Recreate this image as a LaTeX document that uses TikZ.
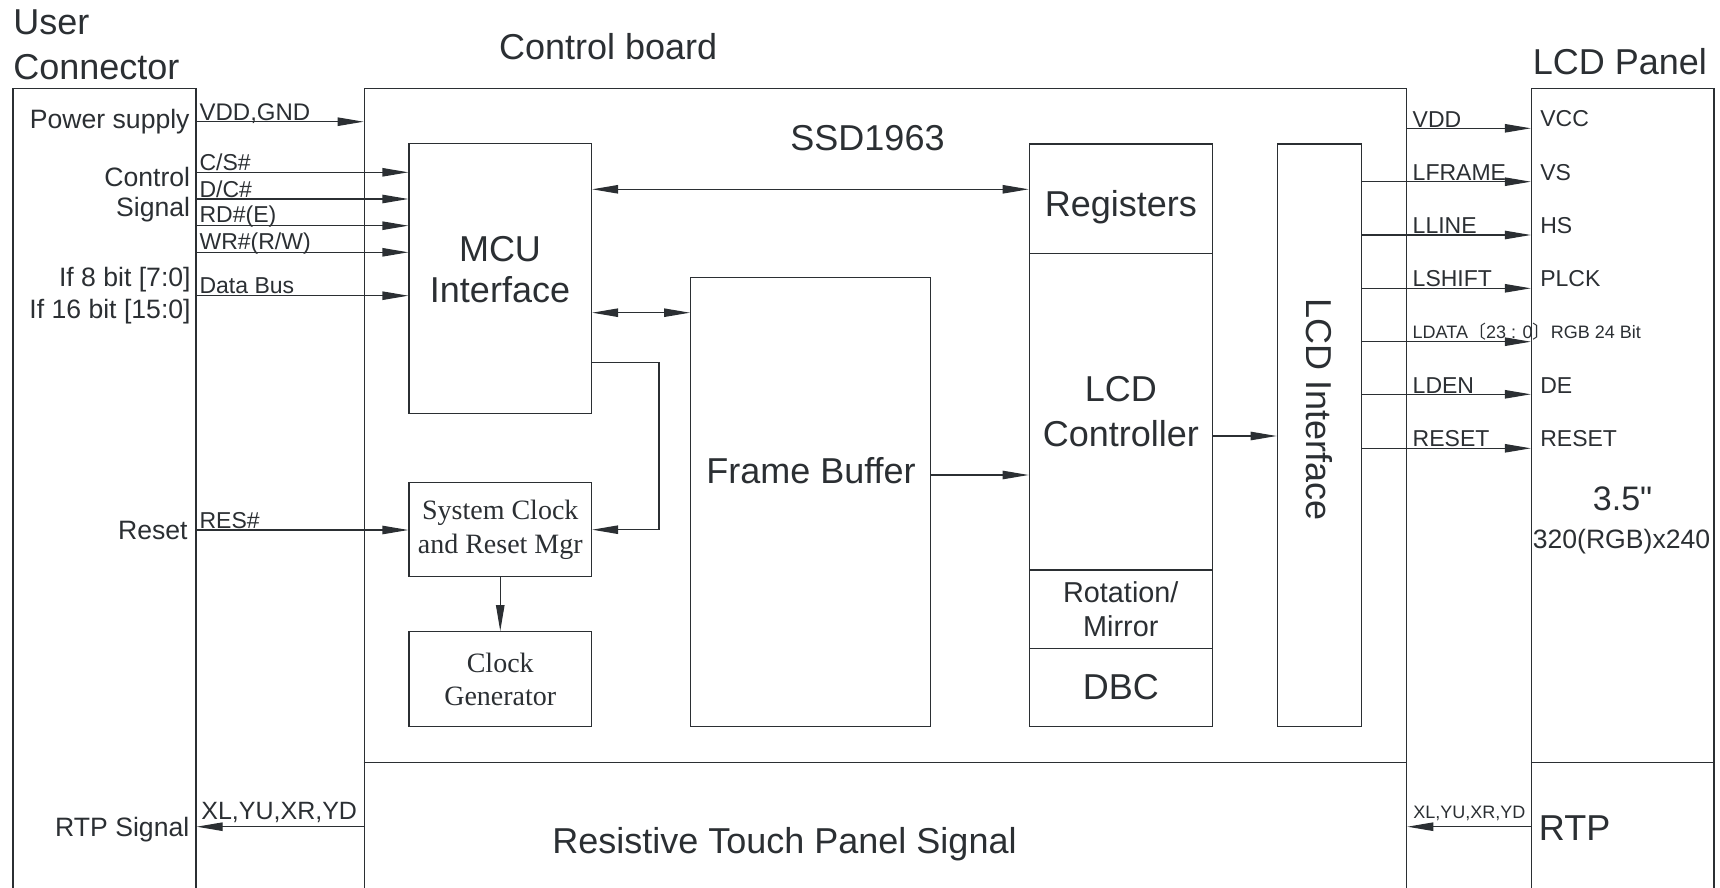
\documentclass[tikz,border=0pt]{standalone}
\usepackage{fontspec}
\usepackage{tikz}
\usetikzlibrary{arrows.meta,positioning}
\newfontfamily\sfont{Liberation Sans}
\newfontfamily\rmfont{Liberation Serif}
\newfontfamily\cjk{Noto Sans CJK SC}
\definecolor{ink}{HTML}{2B2F33}

\begin{document}
\begin{tikzpicture}[x=0.5pt, y=-0.5pt,
  blk/.style={draw=ink, line width=0.6pt, rectangle, inner sep=0pt, text=ink},
  sig/.style={draw=ink, line width=0.6pt, -{Triangle[length=13pt,width=4.2pt]}},
  dsig/.style={draw=ink, line width=0.6pt, {Triangle[length=13pt,width=4.2pt]}-{Triangle[length=13pt,width=4.2pt]}},
  big/.style={font=\sfont\fontsize{18}{22.5}\selectfont, text=ink, inner sep=0pt},
  mid/.style={font=\sfont\fontsize{13.3}{16}\selectfont, text=ink, inner sep=0pt},
  sml/.style={font=\sfont\fontsize{11.5}{14}\selectfont, text=ink, inner sep=0pt},
  tny/.style={font=\sfont\fontsize{9}{11}\selectfont, text=ink, inner sep=0pt},
  tms/.style={font=\rmfont\fontsize{14}{16.7}\selectfont, text=ink, align=center}]

\useasboundingbox (0,0) rectangle (1720,888);

% outer boxes
\node[blk, minimum width=91.5pt, minimum height=406pt] (user) at (104.5,494.2) {};
\node[blk, minimum width=521.2pt, minimum height=406pt] (board) at (885.5,494.2) {};
\node[blk, minimum width=91.25pt, minimum height=406pt] (panel) at (1622.75,494.2) {};
\coordinate (ysep) at (0,762.7);
\draw[ink, line width=0.6pt] (board.west |- ysep) -- (board.east |- ysep);
\draw[ink, line width=0.6pt] (panel.west |- ysep) -- (panel.east |- ysep);

\node[big, anchor=base west] (usr1) at (13,35) {User};
\node[big, anchor=base west] (usr2) at (13,80) {Connector};
\node[big, anchor=base] (brd) at (608.2,59.5) {Control board};
\node[big, anchor=base] (pnl) at (1620,74.6) {LCD Panel};
\node[big, anchor=base] (chip) at (867.5,150.7) {SSD1963};

% blocks inside the chip
\node[blk, minimum width=91.25pt, minimum height=134.8pt] (mcu) at (500.25,278.5) {};
\node[big, align=center, font=\sfont\fontsize{18}{20.8}\selectfont] (tmcu) at (500,269.7) {MCU\\Interface};
\node[blk, tms, minimum width=91.25pt, minimum height=47pt] (sysclk) at (500.25,529.7) {System Clock\\and Reset Mgr};
\node[blk, tms, minimum width=91.25pt, minimum height=47.5pt] (clkgen) at (500.25,679.2) {Clock\\Generator};
\node[blk, minimum width=119.9pt, minimum height=224.7pt] (fb) at (810.5,502) {};
\node[big, anchor=base] (tfb) at (811,483.3) {Frame Buffer};
\node[blk, minimum width=91.5pt, minimum height=54.65pt] (regs) at (1120.8,198.65) {};
\node[big, anchor=base] (tregs) at (1120.8,216.7) {Registers};
\node[blk, big, align=center, minimum width=91.5pt, minimum height=158.35pt] (lcdc) at (1120.8,411.65) {LCD\\Controller};
\node[blk, align=center, minimum width=91.5pt, minimum height=39.15pt, font=\sfont\fontsize{14.4}{17.3}\selectfont] (rot) at (1120.8,609.15) {Rotation/\\Mirror};
\node[blk, big, minimum width=91.5pt, minimum height=39.2pt] (dbc) at (1120.8,687.5) {DBC};
\node[blk, minimum width=42.2pt, minimum height=291.35pt] (lcdif) at (1319.5,435.35) {};
\node[big, rotate=-90] (tlcdif) at (1319.5,410) {LCD Interface};

% user connector side
\node[mid, anchor=base east] (lpwr) at (190,128.3) {Power supply};
\node[mid, anchor=base east] (lctl) at (190.5,186.7) {Control};
\node[mid, anchor=base east] (lsig) at (190.5,216.7) {Signal};
\node[mid, anchor=base east] (l8) at (191,286) {If 8 bit [7:0]};
\node[mid, anchor=base east] (l16) at (191,318.3) {If 16 bit [15:0]};
\node[mid, anchor=base east] (lrst) at (188,539.3) {Reset};
\node[mid, anchor=base east] (lrtp) at (189.7,836.7) {RTP Signal};

\coordinate (yvdd) at (0,121.7);
\coordinate (ycs) at (0,172.3);
\coordinate (ydc) at (0,199);
\coordinate (yrd) at (0,225.7);
\coordinate (ywr) at (0,252.3);
\coordinate (ybus) at (0,295.7);
\coordinate (yres) at (0,530);
\coordinate (yrtp) at (0,826.7);

\draw[sig] (user.east |- yvdd) node[sml, anchor=base west, xshift=1.2pt, yshift=0.8pt, font=\sfont\fontsize{12}{14}\selectfont] (tvdd) {VDD,GND} -- (board.west |- yvdd);
\draw[sig] (user.east |- ycs) node[sml, anchor=base west, xshift=1.2pt, yshift=0.7pt] (tcs) {C/S\#} -- (mcu.west |- ycs);
\draw[sig] (user.east |- ydc) node[sml, anchor=base west, xshift=1.2pt, yshift=0.9pt] (tdc) {D/C\#} -- (mcu.west |- ydc);
\draw[sig] (user.east |- yrd) node[sml, anchor=base west, xshift=1.2pt, yshift=1.4pt] (trd) {RD\#(E)} -- (mcu.west |- yrd);
\draw[sig] (user.east |- ywr) node[sml, anchor=base west, xshift=1.2pt, yshift=1.4pt] (twr) {WR\#(R/W)} -- (mcu.west |- ywr);
\draw[sig] (user.east |- ybus) node[sml, anchor=base west, xshift=1.2pt, yshift=1.2pt] (tbus) {Data Bus} -- (mcu.west |- ybus);
\draw[sig] (user.east |- yres) node[sml, anchor=base west, xshift=1.2pt, yshift=0.8pt] (tres) {RES\#} -- (sysclk.west |- yres);
\draw[sig] (board.west |- yrtp) -- (user.east |- yrtp);
\node[sml, anchor=base west, xshift=2.2pt, yshift=3.7pt, font=\sfont\fontsize{12.5}{14}\selectfont] (trtpl) at (user.east |- yrtp) {XL,YU,XR,YD};

% inside the chip
\coordinate (ymr) at (0,189.3);
\coordinate (ymf) at (0,312.7);
\coordinate (fbk) at (659,362.7);
\coordinate (yfl) at (0,475);
\coordinate (yli) at (0,436);
\draw[dsig] (mcu.east |- ymr) -- (regs.west |- ymr);
\draw[dsig] (mcu.east |- ymf) -- (fb.west |- ymf);
\draw[sig] (mcu.east |- fbk) -- (fbk) |- (sysclk.east);
\draw[sig] (sysclk) -- (clkgen);
\draw[sig] (fb.east |- yfl) -- (lcdc.west |- yfl);
\draw[sig] (lcdc.east |- yli) -- (lcdif.west |- yli);

% panel side
\coordinate (yrvdd) at (0,128.3);
\coordinate (ylf) at (0,181.7);
\coordinate (yll) at (0,235);
\coordinate (yls) at (0,288.3);
\coordinate (yld) at (0,341.7);
\coordinate (yle) at (0,394.3);
\coordinate (ylr) at (0,448.3);
\draw[sig] (board.east |- yrvdd) -- (panel.west |- yrvdd);
\draw[sig] (lcdif.east |- ylf) -- (panel.west |- ylf);
\draw[sig] (lcdif.east |- yll) -- (panel.west |- yll);
\draw[sig] (lcdif.east |- yls) -- (panel.west |- yls);
\draw[sig] (lcdif.east |- yld) -- (panel.west |- yld);
\draw[sig] (lcdif.east |- yle) -- (panel.west |- yle);
\draw[sig] (lcdif.east |- ylr) -- (panel.west |- ylr);
\draw[sig] (panel.west |- yrtp) -- (board.east |- yrtp);

\node[sml, anchor=base west, xshift=2.5pt, yshift=0.5pt] (trvdd) at (board.east |- yrvdd) {VDD};
\node[sml, anchor=base west, xshift=2.5pt, yshift=0.8pt] (tlf) at (board.east |- ylf) {LFRAME};
\node[sml, anchor=base west, xshift=2.5pt, yshift=0.5pt] (tll) at (board.east |- yll) {LLINE};
\node[sml, anchor=base west, xshift=2.5pt, yshift=0.8pt] (tls) at (board.east |- yls) {LSHIFT};
\node[tny, anchor=base west, xshift=2.5pt, yshift=1.6pt] (tld) at (board.east |- yld) {LDATA{\cjk 〔}23 : 0{\cjk 〕}RGB 24 Bit};
\node[sml, anchor=base west, xshift=2.5pt, yshift=0.5pt] (tle) at (board.east |- yle) {LDEN};
\node[sml, anchor=base west, xshift=2.5pt, yshift=0.8pt] (tlr) at (board.east |- ylr) {RESET};
\node[tny, anchor=base west, xshift=2.8pt, yshift=4.2pt] (trtpr) at (board.east |- yrtp) {XL,YU,XR,YD};

\node[sml, anchor=base west, xshift=4.5pt, yshift=0.8pt] (pvcc) at (panel.west |- yrvdd) {VCC};
\node[sml, anchor=base west, xshift=4.5pt, yshift=0.8pt] (pvs) at (panel.west |- ylf) {VS};
\node[sml, anchor=base west, xshift=4.5pt, yshift=0.5pt] (phs) at (panel.west |- yll) {HS};
\node[sml, anchor=base west, xshift=4.5pt, yshift=0.8pt] (pclk) at (panel.west |- yls) {PLCK};
\node[sml, anchor=base west, xshift=4.5pt, yshift=0.5pt] (pde) at (panel.west |- yle) {DE};
\node[sml, anchor=base west, xshift=4.5pt, yshift=0.8pt] (prst) at (panel.west |- ylr) {RESET};
\node[big, anchor=base, font=\sfont\fontsize{17}{20}\selectfont] (psize) at (1622.6,510.7) {3.5"};
\node[mid, anchor=base] (pres) at (1621.5,548) {320(RGB)x240};
\node[big, anchor=base west] (prtp) at (1538.5,840.7) {RTP};

\node[big, anchor=base] (rtpsig) at (784.5,853.3) {Resistive Touch Panel Signal};

\end{tikzpicture}
\end{document}
